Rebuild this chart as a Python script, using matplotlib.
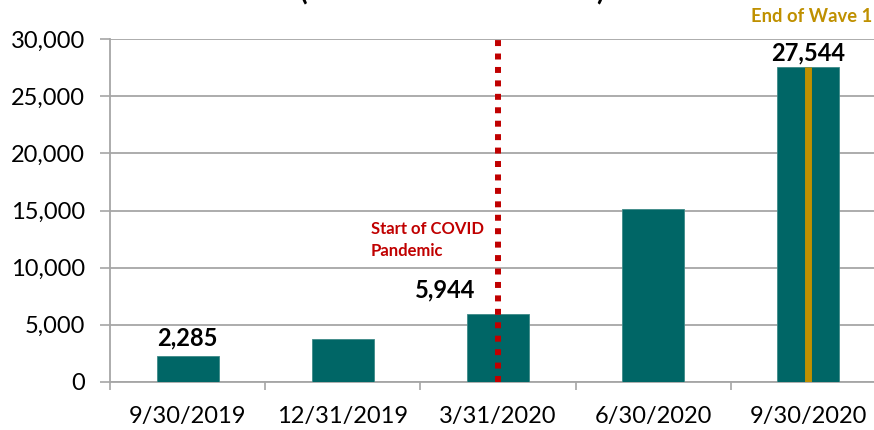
import matplotlib
matplotlib.use("Agg")
import matplotlib.pyplot as plt
from matplotlib.ticker import FuncFormatter, FixedLocator

plt.rcParams['font.family'] = ['Lato', 'DejaVu Sans']

categories = ["9/30/2019", "12/31/2019", "3/31/2020", "6/30/2020", "9/30/2020"]
values = [2285, 3750, 5944, 15100, 27544]
labelled = {0: "2,285", 2: "5,944", 4: "27,544"}
covid_idx = 2
wave_idx = 4

TEAL = '#006666'
GOLD = '#BF9000'
RED = '#C00000'
GRID = '#A6A6A6'

fig = plt.figure(figsize=(8.74, 4.30), dpi=100)
ax = fig.add_axes([110/874, 48/430, 776/874, 343/430])

x = list(range(len(categories)))
ax.bar(x, values, width=0.4, color=TEAL, edgecolor='#3E8A88', linewidth=0.6, zorder=3)

# gold end-of-wave line inside last bar
ax.vlines(wave_idx, 0, values[wave_idx], colors=GOLD, linewidth=5.0, zorder=4)

# red dotted covid line
ax.plot([covid_idx, covid_idx], [0, 30000], color=RED, linewidth=4.3,
        linestyle=(0, (1, 1.25)), dash_capstyle='butt', zorder=5, clip_on=False)

ax.set_xlim(-0.5, len(categories) - 0.5)
ax.set_ylim(0, 30000)
ax.set_yticks(range(0, 30001, 5000))
ax.yaxis.set_major_formatter(FuncFormatter(lambda v, p: f"{int(v):,}"))
ax.set_xticks(x)
ax.set_xticklabels(categories)
ax.xaxis.set_minor_locator(FixedLocator([i + 0.5 for i in range(-1, len(categories))]))

ax.grid(axis='y', color=GRID, linewidth=1.3, zorder=0)
ax.set_axisbelow(True)
for s in ['top', 'right']:
    ax.spines[s].set_visible(False)
for s in ['left', 'bottom']:
    ax.spines[s].set_color(GRID)
    ax.spines[s].set_linewidth(1.3)

ax.tick_params(axis='y', length=7.2, width=1.2, color=GRID, pad=11, labelsize=17, labelcolor='black')
ax.tick_params(axis='x', which='major', length=0, pad=17.5, labelsize=17, labelcolor='black')
ax.tick_params(axis='x', which='minor', length=6, width=1.2, color=GRID)

# data labels
ax.annotate(labelled[0], xy=(0, values[0]), xytext=(0, 6), textcoords='offset pixels',
            ha='center', va='bottom', fontsize=17, fontweight='bold', color='black')
ax.annotate(labelled[2], xy=(2, values[2]), xytext=(-53, 13), textcoords='offset pixels',
            ha='center', va='bottom', fontsize=17, fontweight='bold', color='black')
ax.annotate(labelled[4], xy=(4, values[4]), xytext=(0, 3), textcoords='offset pixels',
            ha='center', va='bottom', fontsize=17, fontweight='bold', color='black')

ax.text(1.18, 14100, "Start of COVID\nPandemic", ha='left', va='top', fontsize=12,
        fontweight='bold', color=RED, linespacing=1.45)

fig.text(872/874, 1 - 22/430, "End of Wave 1", ha='right', va='baseline', fontsize=13.2,
         fontweight='bold', color=GOLD)

# clipped title (only the bottom of the parentheses is visible)
fig.text(304/874, 1.0, "(", ha='center', va='baseline', fontsize=20, fontweight='bold')
fig.text(600/874, 1.0, ")", ha='center', va='baseline', fontsize=20, fontweight='bold')

fig.savefig("out.png", dpi=100)
